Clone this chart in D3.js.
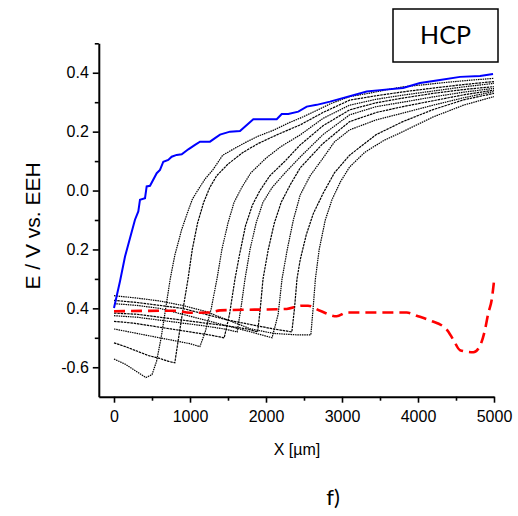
<!DOCTYPE html>
<html>
<head>
<meta charset="utf-8">
<script src="https://cdn.jsdelivr.net/npm/d3@7"></script>
<style>
  body { margin: 0; background: #fff; }
  svg { display: block; }
</style>
</head>
<body>
<svg id="chart" width="518" height="516"></svg>
<script>
// ---- axis ticks ----
const xMajorTicks = [0, 1000, 2000, 3000, 4000, 5000];
const xMinorTicks = [500, 1500, 2500, 3500, 4500];
const yMajorTicks = [-0.6, -0.4, -0.2, 0.0, 0.2, 0.4];
const yTickLabels = ["-0.6", "0.4", "0.2", "0.0", "0.2", "0.4"];
const yMinorTicks = [-0.5, -0.3, -0.1, 0.1, 0.3, 0.5];

// ---- potential profiles, [X in µm, E in V] ----
const bluePotential = [
  [0, -0.399], [79, -0.308], [145, -0.224], [211, -0.161], [276, -0.099], [320, -0.071],
  [342, -0.031], [408, -0.026], [430, 0.014], [474, 0.016], [562, 0.059], [605, 0.070],
  [649, 0.098], [714, 0.104], [759, 0.115], [825, 0.121], [891, 0.123], [978, 0.140],
  [1066, 0.155], [1132, 0.166], [1263, 0.166], [1329, 0.178], [1395, 0.190], [1526, 0.200],
  [1658, 0.202], [1833, 0.242], [2141, 0.242], [2207, 0.260], [2293, 0.260], [2425, 0.268],
  [2536, 0.285], [2667, 0.291], [2842, 0.302], [3325, 0.336], [3500, 0.341], [3803, 0.348],
  [4026, 0.365], [4289, 0.375], [4553, 0.386], [4816, 0.389], [4987, 0.396]
];

const redPotential = [
  [0, -0.410], [800, -0.408], [1000, -0.415], [1250, -0.414], [1395, -0.407], [2272, -0.402],
  [2470, -0.391], [2553, -0.391], [2711, -0.408], [2930, -0.427], [3062, -0.414],
  [3851, -0.414], [3983, -0.425], [4158, -0.441], [4378, -0.472], [4464, -0.506],
  [4553, -0.542], [4728, -0.549], [4816, -0.527], [4882, -0.472], [4925, -0.416],
  [4970, -0.371], [5000, -0.308]
];

const scan1 = [
  [0, -0.572], [150, -0.59], [300, -0.615], [420, -0.635], [500, -0.625], [560, -0.58],
  [620, -0.50], [680, -0.40], [740, -0.30], [800, -0.22], [890, -0.133], [960, -0.08],
  [1030, -0.03], [1100, 0.0], [1200, 0.04], [1300, 0.07], [1430, 0.12], [1600, 0.145],
  [1750, 0.166], [1900, 0.185], [2100, 0.205], [2300, 0.23], [2450, 0.246], [2650, 0.27],
  [2850, 0.295], [3100, 0.319], [3350, 0.33], [3600, 0.343], [3800, 0.352], [4100, 0.36],
  [4400, 0.368], [4700, 0.375], [5000, 0.381]
];
const scan2 = [
  [0, -0.517], [150, -0.53], [300, -0.545], [450, -0.56], [600, -0.57], [720, -0.58],
  [800, -0.585], [850, -0.50], [910, -0.40], [974, -0.30], [1030, -0.20], [1100, -0.11],
  [1180, -0.04], [1260, 0.01], [1350, 0.05], [1500, 0.09], [1700, 0.13], [1900, 0.16],
  [2150, 0.19], [2450, 0.223], [2750, 0.265], [3100, 0.307], [3450, 0.322], [3800, 0.335],
  [4200, 0.348], [4600, 0.36], [5000, 0.37]
];
const scan3 = [
  [0, -0.47], [200, -0.48], [400, -0.49], [600, -0.50], [800, -0.51], [1000, -0.52],
  [1130, -0.53], [1200, -0.48], [1280, -0.40], [1355, -0.30], [1420, -0.20], [1500, -0.11],
  [1580, -0.04], [1680, 0.01], [1800, 0.06], [2000, 0.11], [2200, 0.15], [2450, 0.189],
  [2750, 0.245], [3100, 0.29], [3450, 0.31], [3800, 0.324], [4200, 0.338], [4600, 0.352],
  [5000, 0.364]
];
const scan4 = [
  [0, -0.444], [250, -0.45], [500, -0.46], [750, -0.47], [1000, -0.48], [1250, -0.49],
  [1450, -0.50], [1520, -0.42], [1592, -0.30], [1650, -0.22], [1730, -0.12], [1820, -0.05],
  [1920, 0.0], [2050, 0.05], [2250, 0.10], [2450, 0.155], [2750, 0.22], [3100, 0.274],
  [3450, 0.298], [3800, 0.314], [4200, 0.33], [4600, 0.343], [5000, 0.353]
];
const scan5 = [
  [0, -0.425], [300, -0.43], [600, -0.44], [900, -0.45], [1200, -0.46], [1450, -0.47],
  [1620, -0.48], [1670, -0.40], [1724, -0.30], [1790, -0.20], [1870, -0.11], [1960, -0.04],
  [2080, 0.01], [2250, 0.06], [2450, 0.114], [2750, 0.19], [3100, 0.257], [3450, 0.285],
  [3800, 0.30], [4200, 0.318], [4600, 0.334], [5000, 0.347]
];
const scan6 = [
  [0, -0.416], [300, -0.42], [600, -0.43], [900, -0.44], [1200, -0.45], [1500, -0.46],
  [1750, -0.47], [1890, -0.48], [1925, -0.40], [1961, -0.30], [2030, -0.20], [2110, -0.11],
  [2200, -0.04], [2320, 0.02], [2450, 0.077], [2750, 0.16], [3100, 0.234], [3450, 0.265],
  [3800, 0.285], [4200, 0.305], [4600, 0.325], [5000, 0.341]
];
const scan7 = [
  [0, -0.384], [300, -0.39], [600, -0.40], [900, -0.42], [1200, -0.44], [1500, -0.46],
  [1800, -0.48], [2080, -0.50], [2160, -0.42], [2211, -0.30], [2280, -0.20], [2360, -0.10],
  [2450, -0.015], [2580, 0.05], [2750, 0.11], [2900, 0.165], [3100, 0.206], [3450, 0.24],
  [3800, 0.263], [4200, 0.29], [4600, 0.315], [5000, 0.336]
];
const scan8 = [
  [0, -0.373], [300, -0.38], [600, -0.39], [900, -0.40], [1200, -0.42], [1500, -0.44],
  [1800, -0.455], [2100, -0.47], [2340, -0.48], [2375, -0.40], [2408, -0.30], [2450, -0.235],
  [2530, -0.15], [2620, -0.08], [2750, -0.01], [2900, 0.06], [3100, 0.12], [3450, 0.19],
  [3800, 0.234], [4200, 0.275], [4600, 0.308], [5000, 0.33]
];
const scan9 = [
  [0, -0.357], [300, -0.365], [600, -0.375], [900, -0.39], [1200, -0.41], [1500, -0.44],
  [1800, -0.47], [2100, -0.485], [2400, -0.49], [2590, -0.49], [2620, -0.40], [2650, -0.30],
  [2700, -0.20], [2780, -0.10], [2870, -0.03], [2980, 0.03], [3100, 0.08], [3300, 0.13],
  [3550, 0.17], [3800, 0.20], [4200, 0.25], [4600, 0.29], [5000, 0.319]
];
const scans = [scan1, scan2, scan3, scan4, scan5, scan6, scan7, scan8, scan9];

// ---- layout ----
const svg = d3.select("#chart");
const x = d3.scaleLinear().domain([-200, 5000]).range([98.8, 494]);
const y = d3.scaleLinear().domain([-0.7, 0.5]).range([396.7, 43.3]);

const line = d3.line().x(d => x(d[0])).y(d => y(d[1]));

// scan profiles (thin black dotted)
svg.append("g")
  .selectAll("path")
  .data(scans)
  .join("path")
  .attr("d", line)
  .attr("fill", "none")
  .attr("stroke", "#000")
  .attr("stroke-width", 1.2)
  .attr("stroke-dasharray", (d, i) => i % 2 === 0 ? "1.5,0.8" : "2.5,0.8");

// red dashed profile
svg.append("path")
  .datum(redPotential)
  .attr("d", d3.line().x(d => x(d[0])).y(d => y(d[1])).curve(d3.curveMonotoneX))
  .attr("fill", "none")
  .attr("stroke", "#ff0000")
  .attr("stroke-width", 2.6)
  .attr("stroke-dasharray", "11,6");

// blue profile
svg.append("path")
  .datum(bluePotential)
  .attr("d", line)
  .attr("fill", "none")
  .attr("stroke", "#0000ff")
  .attr("stroke-width", 2);

// ---- axes ----
const tickFont = "Liberation Sans, Arial, sans-serif";

svg.append("g")
  .attr("transform", `translate(${x(-200)},0)`)
  .call(d3.axisLeft(y).tickValues(yMajorTicks)
    .tickFormat((d, i) => yTickLabels[i]).tickSize(6).tickSizeOuter(0).tickPadding(4));
svg.append("g")
  .attr("transform", `translate(${x(-200)},0)`)
  .call(d3.axisLeft(y).tickValues(yMinorTicks).tickFormat("").tickSize(4).tickSizeOuter(0))
  .call(g => g.select(".domain").remove());

svg.append("g")
  .attr("transform", `translate(0,${y(-0.7)})`)
  .call(d3.axisBottom(x).tickValues(xMajorTicks).tickFormat(d3.format("d"))
    .tickSize(6).tickSizeOuter(0).tickPadding(8));
svg.append("g")
  .attr("transform", `translate(0,${y(-0.7)})`)
  .call(d3.axisBottom(x).tickValues(xMinorTicks).tickFormat("").tickSize(4).tickSizeOuter(0))
  .call(g => g.select(".domain").remove());

svg.selectAll(".domain").attr("stroke", "#000").attr("stroke-width", 2);
svg.selectAll(".tick line").attr("stroke", "#000").attr("stroke-width", 1.6);
svg.selectAll(".tick text")
  .attr("font-family", tickFont)
  .attr("font-size", 16)
  .attr("fill", "#000");

// ---- titles ----
svg.append("text")
  .attr("transform", `translate(40,${(y(0.1) + y(-0.3)) / 2 + 6}) rotate(-90)`)
  .attr("text-anchor", "middle")
  .attr("font-family", tickFont)
  .attr("font-size", 21)
  .attr("fill", "#000")
  .text("E / V vs. EEH");

svg.append("text")
  .attr("x", 297)
  .attr("y", 455)
  .attr("text-anchor", "middle")
  .attr("font-family", tickFont)
  .attr("font-size", 16)
  .attr("fill", "#000")
  .text("X [µm]");

svg.append("text")
  .attr("x", 333)
  .attr("y", 505)
  .attr("text-anchor", "middle")
  .attr("font-family", "Lato, Open Sans, sans-serif")
  .attr("font-size", 22)
  .attr("fill", "#000")
  .text("f)");

// ---- label box ----
svg.append("rect")
  .attr("x", 393).attr("y", 9).attr("width", 105).attr("height", 53)
  .attr("fill", "#fff").attr("stroke", "#000").attr("stroke-width", 1.5);
svg.append("text")
  .attr("x", 445.5).attr("y", 44)
  .attr("text-anchor", "middle")
  .attr("font-family", "Lato, Open Sans, sans-serif")
  .attr("font-size", 25)
  .attr("fill", "#000")
  .text("HCP");
</script>
</body>
</html>
